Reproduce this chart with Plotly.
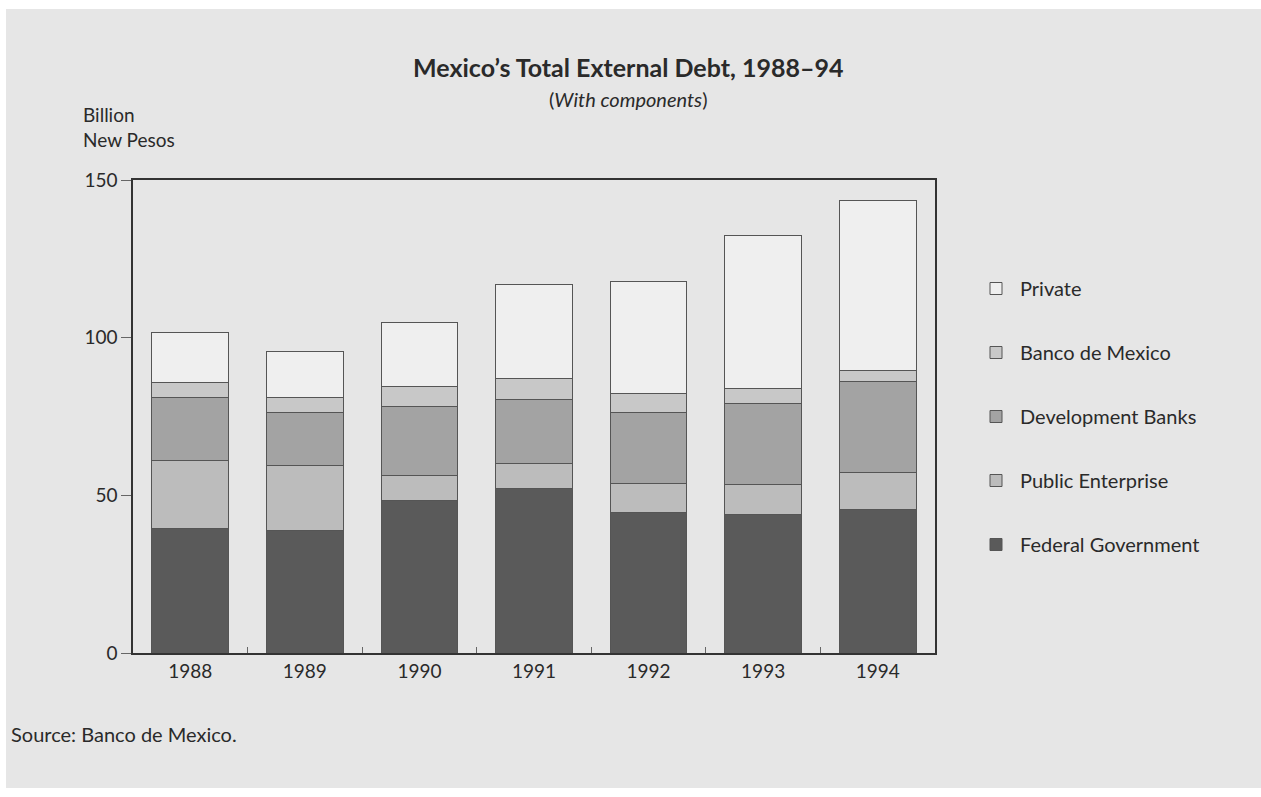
import plotly.graph_objects as go

years = ["1988", "1989", "1990", "1991", "1992", "1993", "1994"]
federal_government = [39.6, 38.8, 48.3, 52.2, 44.5, 43.9, 45.5]
public_enterprise = [21.4, 20.7, 8.0, 8.0, 9.3, 9.5, 11.6]
development_banks = [20.0, 16.7, 21.8, 20.1, 22.5, 25.8, 28.9]
banco_de_mexico = [4.9, 4.9, 6.3, 6.7, 6.0, 4.8, 3.6]
private = [15.8, 14.6, 20.3, 29.8, 35.4, 48.5, 53.9]

series = [
    ("Federal Government", federal_government, "#5a5a5a"),
    ("Public Enterprise", public_enterprise, "#bcbcbc"),
    ("Development Banks", development_banks, "#a3a3a3"),
    ("Banco de Mexico", banco_de_mexico, "#c8c8c8"),
    ("Private", private, "#efefef"),
]

FONT = "Lato, 'Open Sans', sans-serif"
TXT = "#2a2a2a"

fig = go.Figure()
n = len(series)
for i, (name, vals, col) in enumerate(series):
    fig.add_trace(go.Bar(
        x=years, y=vals, name=name, legendgroup=name, legendrank=n - i,
        marker=dict(color=col, line=dict(color="#555555", width=1)),
    ))

W, H = 1261, 797
L, R, T, B = 133, 326, 180, 144
pw, ph = W - L - R, H - T - B

def px(x):
    return (x - L) / pw

def py(y):
    return (H - B - y) / ph

fig.update_layout(
    width=W, height=H,
    barmode="stack", bargap=0.33,
    paper_bgcolor="white", plot_bgcolor="white",
    margin=dict(l=L, r=R, t=T, b=B),
    font=dict(family=FONT, color=TXT, size=19),
    showlegend=True,
    legend=dict(
        traceorder="grouped", tracegroupgap=35, itemwidth=38,
        x=px(972), y=py(269), xanchor="left", yanchor="top",
        bgcolor="rgba(0,0,0,0)", font=dict(size=20, color=TXT),
    ),
    shapes=[dict(
        type="rect", xref="paper", yref="paper",
        x0=px(6), x1=px(1261), y0=py(788), y1=py(9),
        fillcolor="#e6e6e6", line=dict(width=0), layer="below",
    )],
    annotations=[
        dict(text="<b>Mexico’s Total External Debt, 1988–94</b>", xref="paper", yref="paper",
             x=px(628), y=py(67), xanchor="center", yanchor="middle", showarrow=False,
             font=dict(size=25, color=TXT)),
        dict(text="(<i>With components</i>)", xref="paper", yref="paper",
             x=px(628), y=py(99), xanchor="center", yanchor="middle", showarrow=False,
             font=dict(size=20, color=TXT)),
        dict(text="Billion<br>New Pesos", xref="paper", yref="paper",
             x=px(81), y=py(127), xanchor="left", yanchor="middle", align="left",
             showarrow=False, font=dict(size=19, color=TXT)),
        dict(text="Source: Banco de Mexico.", xref="paper", yref="paper",
             x=px(9), y=py(734), xanchor="left", yanchor="middle", showarrow=False,
             font=dict(size=20, color=TXT)),
    ],
)

fig.update_xaxes(
    showline=True, linecolor="#333333", linewidth=1.5, mirror=True,
    ticks="inside", ticklen=6, tickcolor="#666666", tickson="boundaries",
    showgrid=False, tickfont=dict(size=19, color=TXT),
)
fig.update_yaxes(
    range=[0, 150], tickvals=[0, 50, 100, 150],
    showline=True, linecolor="#333333", linewidth=1.5, mirror=True,
    ticks="outside", ticklen=10, tickcolor="#666666",
    showgrid=False, zeroline=False, tickfont=dict(size=19, color=TXT),
)

fig.write_html("out.html")
